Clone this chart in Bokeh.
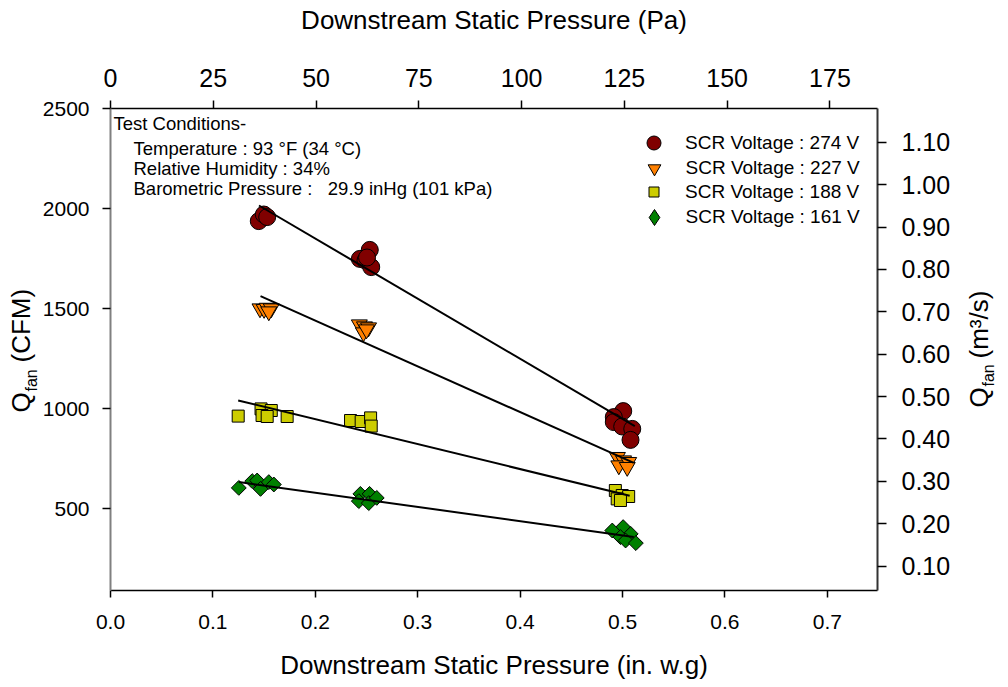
import math
from bokeh.plotting import figure
from bokeh.models import (Range1d, LinearAxis, FixedTicker, NumeralTickFormatter,
                          Label, Legend, LegendItem)
from bokeh.embed import file_html
from bokeh.resources import INLINE

FONT = "Liberation Sans"

# ---------------- data ----------------
# SCR Voltage : 274 V
v274_x = [0.1448, 0.1497, 0.1530, 0.2435, 0.2490, 0.2532, 0.2546, 0.2505,
          0.5007, 0.4915, 0.4915, 0.4997, 0.5095, 0.5078]
v274_y = [1937, 1970, 1957, 1748, 1740, 1793, 1707, 1755,
          987, 957, 932, 910, 898, 843]
# SCR Voltage : 227 V
v227_x = [0.146, 0.150, 0.153, 0.157, 0.1546,
          0.243, 0.248, 0.252, 0.247, 0.250,
          0.495, 0.501, 0.4964, 0.506, 0.5046]
v227_y = [1500, 1497, 1503, 1500, 1485,
          1420, 1410, 1405, 1380, 1395,
          757, 740, 715, 732, 707]
# SCR Voltage : 188 V
v188_x = [0.1247, 0.147, 0.157, 0.148, 0.153, 0.1725,
          0.2344, 0.2448, 0.254, 0.2546,
          0.493, 0.4997, 0.506, 0.4948, 0.498]
v188_y = [962, 998, 990, 965, 960, 960,
          940, 935, 953, 912,
          590, 565, 560, 548, 540]
# SCR Voltage : 161 V
v161_x = [0.1253, 0.1384, 0.1432, 0.1465, 0.1546, 0.1595,
          0.244, 0.253, 0.2425, 0.2522, 0.260,
          0.5006, 0.490, 0.508, 0.498, 0.503, 0.513]
v161_y = [603, 637, 640, 598, 632, 620,
          573, 573, 537, 527, 553,
          407, 390, 373, 357, 340, 327]

# regression lines (end points)
fit274_x = [0.145, 0.512]
fit274_y = [2015, 912]
fit227_x = [0.1465, 0.511]
fit227_y = [1562, 728]
fit188_x = [0.1247, 0.507]
fit188_y = [1040, 564]
fit161_x = [0.1253, 0.511]
fit161_y = [632, 358]

bottom_ticks = [0.0, 0.1, 0.2, 0.3, 0.4, 0.5, 0.6, 0.7]
left_ticks = [500, 1000, 1500, 2000, 2500]
top_ticks = [0, 25, 50, 75, 100, 125, 150, 175]
right_ticks = [0.10, 0.20, 0.30, 0.40, 0.50, 0.60, 0.70, 0.80, 0.90, 1.00, 1.10]

labels_v = ["SCR Voltage : 274 V", "SCR Voltage : 227 V",
            "SCR Voltage : 188 V", "SCR Voltage : 161 V"]
cond_lines = ["Test Conditions-",
              "Temperature : 93 \u00b0F (34 \u00b0C)",
              "Relative Humidity : 34%",
              "Barometric Pressure :\u00a0\u00a0 29.9 inHg (101 kPa)"]

# ---------------- layout ----------------
W, H = 1000, 679
AX_X = (0.0, 0.749)        # in. w.g. span of the axes box
AX_Y = (90.0, 2500.0)      # CFM span of the axes box
BOX_L, BOX_R, BOX_T, BOX_B = 110, 877, 108, 590   # axes box in canvas pixels
PA_PER_INWG = 249.089
M3S_PER_CFM = 0.000471947

kx = (BOX_R - BOX_L) / (AX_X[1] - AX_X[0])   # px per in.w.g
ky = (BOX_B - BOX_T) / (AX_Y[1] - AX_Y[0])   # px per CFM
XR = (AX_X[0] - BOX_L / kx, AX_X[1] + (W - BOX_R) / kx)
YR = (AX_Y[0] - (H - BOX_B) / ky, AX_Y[1] + BOX_T / ky)


def dx(px):
    return XR[0] + px / kx


def dy(py):
    return YR[1] - py / ky


p = figure(width=W, height=H, output_backend="svg", toolbar_location=None,
           x_range=Range1d(*XR), y_range=Range1d(*YR), min_border=0,
           x_axis_location=None, y_axis_location=None)
p.outline_line_color = None
p.background_fill_color = "white"
p.border_fill_color = "white"
for g in p.grid:
    g.grid_line_color = None

p.extra_x_ranges = {"pa": Range1d(XR[0] * PA_PER_INWG, XR[1] * PA_PER_INWG)}
p.extra_y_ranges = {"m3s": Range1d(YR[0] * M3S_PER_CFM, YR[1] * M3S_PER_CFM)}


def make_axis(size, tick_out, line_color, line_width, standoff, **kw):
    ax = LinearAxis(**kw)
    ax.major_label_text_font = FONT
    ax.major_label_text_font_size = size
    ax.major_label_text_color = "black"
    ax.major_tick_out = tick_out
    ax.major_tick_in = 0
    ax.major_tick_line_color = "black"
    ax.major_tick_line_width = 1.5
    ax.minor_tick_line_color = None
    ax.axis_line_color = line_color
    ax.axis_line_width = line_width
    ax.major_label_standoff = standoff
    return ax


xb = make_axis("21px", 7, "black", 1.5, 17,
               ticker=FixedTicker(ticks=bottom_ticks),
               formatter=NumeralTickFormatter(format="0.0"),
               fixed_location=AX_Y[0], bounds=AX_X)
p.add_layout(xb, "below")

yl = make_axis("21px", 8, "#808080", 2, 13,
               ticker=FixedTicker(ticks=left_ticks),
               formatter=NumeralTickFormatter(format="0"),
               fixed_location=AX_X[0], bounds=AX_Y)
p.add_layout(yl, "left")

xt = make_axis("25px", 8, "black", 1.5, 14, x_range_name="pa",
               ticker=FixedTicker(ticks=top_ticks),
               formatter=NumeralTickFormatter(format="0"),
               fixed_location=AX_Y[1],
               bounds=(AX_X[0] * PA_PER_INWG, AX_X[1] * PA_PER_INWG))
p.add_layout(xt, "above")

yr = make_axis("25px", 9, "#333333", 2, 15, y_range_name="m3s",
               ticker=FixedTicker(ticks=right_ticks),
               formatter=NumeralTickFormatter(format="0.00"),
               fixed_location=AX_X[1],
               bounds=(AX_Y[0] * M3S_PER_CFM, AX_Y[1] * M3S_PER_CFM))
p.add_layout(yr, "right")

# ---------------- glyphs ----------------
r274 = p.scatter(v274_x, v274_y, marker="circle", size=17,
                 fill_color="#800000", line_color="black", line_width=1)
r227 = p.scatter(v227_x, v227_y, marker="inverted_triangle", size=16,
                 fill_color="#FF8000", line_color="black", line_width=1)
r188 = p.scatter(v188_x, v188_y, marker="square", size=12,
                 fill_color="#CCCC00", line_color="black", line_width=1)
r161 = p.scatter(v161_x, v161_y, marker="square", angle=math.pi / 4, size=10.5,
                 fill_color="#008000", line_color="black", line_width=1)
# legend-only stand-in for the rotated square (legends draw markers unrotated)
r161_key = p.scatter([float("nan")], [float("nan")], marker="diamond", size=10,
                     fill_color="#008000", line_color="black", line_width=1)

for fx, fy in [(fit274_x, fit274_y), (fit227_x, fit227_y),
               (fit188_x, fit188_y), (fit161_x, fit161_y)]:
    p.line(fx, fy, line_color="black", line_width=2)

# ---------------- legends (one per entry, to size each marker) ----------------
leg_specs = [(r274, labels_v[0], 35, 142.7),
             (r227, labels_v[1], 32, 168.0),
             (r188, labels_v[2], 25, 191.7),
             (r161_key, labels_v[3], 40, 217.0)]
GX, LX = 653.5, 685
for rend, lab, G, cy in leg_specs:
    leg = Legend(items=[LegendItem(label=lab, renderers=[rend])],
                 location=(GX - G / 2, H - (cy + G / 2)),
                 glyph_width=G, glyph_height=G, label_height=12,
                 label_standoff=int(round(LX - (GX + G / 2))),
                 padding=0, margin=0, spacing=0,
                 border_line_color=None, background_fill_alpha=0,
                 label_text_font=FONT, label_text_font_size="19px",
                 label_text_color="black")
    p.add_layout(leg)

# ---------------- annotation text ----------------
cond_pos = [(113, 123), (133, 148), (133, 168), (133, 188)]
for txt, (px, py) in zip(cond_lines, cond_pos):
    p.add_layout(Label(x=dx(px), y=dy(py), text=txt, text_font=FONT,
                       text_font_size="18.5px", text_color="black",
                       text_align="left", text_baseline="middle"))

# ---------------- titles ----------------
TS = "26px"
SS = "16px"
p.add_layout(Label(x=dx(493.5), y=dy(19), text="Downstream Static Pressure (Pa)",
                   text_font=FONT, text_font_size=TS, text_color="black",
                   text_align="center", text_baseline="middle"))
p.add_layout(Label(x=dx(493.5), y=dy(664), text="Downstream Static Pressure (in. w.g)",
                   text_font=FONT, text_font_size=TS, text_color="black",
                   text_align="center", text_baseline="middle"))

A = math.pi / 2
# left: Q_fan (CFM)
for txt, cx, by, fs in [("Q", 20, 412, TS), ("fan", 31, 391, SS), ("(CFM)", 20, 362, TS)]:
    p.add_layout(Label(x=dx(cx), y=dy(by), text=txt, angle=A, text_font=FONT,
                       text_font_size=fs, text_color="black",
                       text_align="left", text_baseline="middle"))
# right: Q_fan (m3/s)
for txt, cx, by, fs in [("Q", 978, 407, TS), ("fan", 988, 386, SS), ("(m\u00b3/s)", 978, 358, TS)]:
    p.add_layout(Label(x=dx(cx), y=dy(by), text=txt, angle=A, text_font=FONT,
                       text_font_size=fs, text_color="black",
                       text_align="left", text_baseline="middle"))

open("out.html", "w").write(file_html(p, INLINE))
